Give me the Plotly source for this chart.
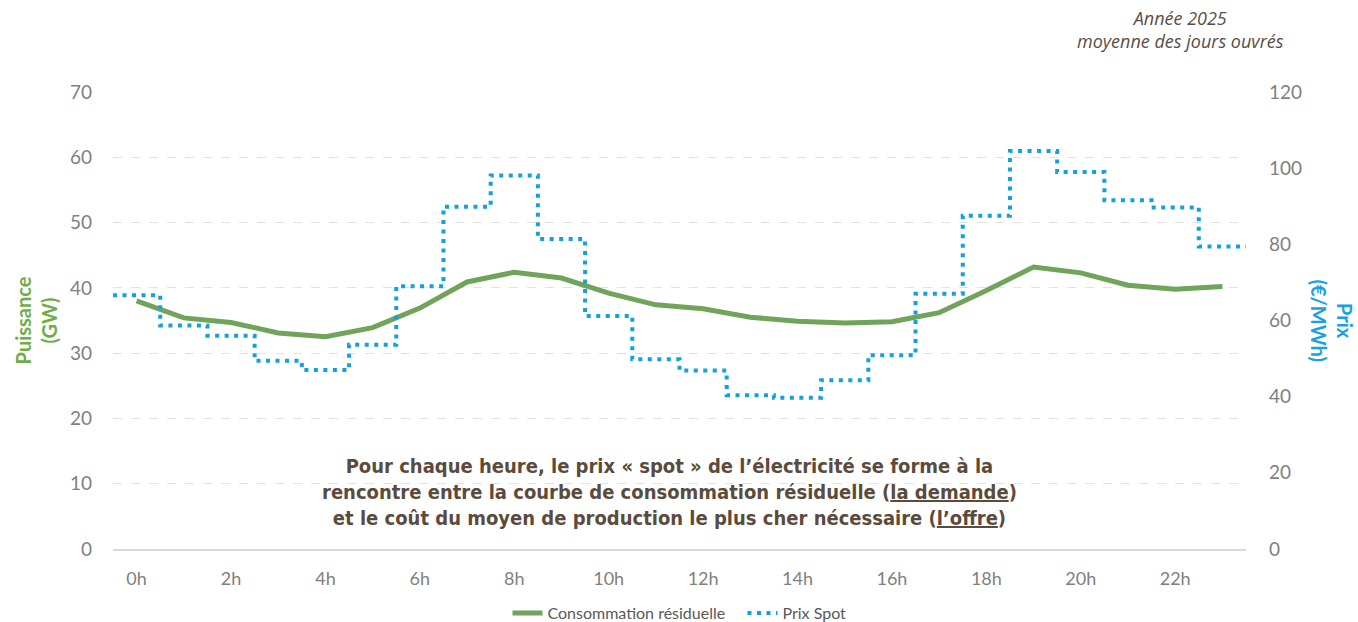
import plotly.graph_objects as go

hours = list(range(24))
tick_hours = list(range(0, 24, 2))
tick_labels = [f"{h}h" for h in tick_hours]

# Consommation résiduelle (GW)
conso = [38.0, 35.4, 34.7, 33.1, 32.5, 33.9, 36.9, 40.9, 42.4, 41.5,
         39.2, 37.4, 36.8, 35.5, 34.9, 34.6, 34.8, 36.2, 39.6, 43.2,
         42.3, 40.4, 39.8, 40.2]

# Prix spot (EUR/MWh)
prix = [66.6, 58.7, 56.0, 49.4, 47.0, 53.6, 69.0, 89.9, 98.1, 81.4,
        61.2, 49.8, 46.9, 40.4, 39.7, 44.3, 50.9, 67.0, 87.5, 104.5,
        99.0, 91.6, 89.7, 79.4]

left_ticks = list(range(0, 71, 10))
right_ticks = list(range(0, 121, 20))

GREEN = "#6FA45A"
BLUE = "#13A1DC"
GRAY = "#7F7F7F"
BROWN = "#5B4B3C"

# step edges: each hour covers [h-0.5, h+0.5]
step_x = [h - 0.5 for h in hours] + [hours[-1] + 0.5]
step_y = prix + [prix[-1]]

fig = go.Figure()
fig.add_trace(go.Scatter(
    x=step_x, y=step_y, yaxis="y2", mode="lines", line_shape="hv",
    name="Prix Spot", legendrank=2,
    line=dict(color=BLUE, width=4, dash="4px,5.5px"),
))
fig.add_trace(go.Scatter(
    x=hours, y=conso, mode="lines", name="Consommation résiduelle   ",
    legendrank=1, line=dict(color=GREEN, width=5),
))

fig.update_layout(
    width=1358, height=622,
    margin=dict(l=113, r=112, t=92, b=73, autoexpand=False),
    paper_bgcolor="white", plot_bgcolor="white",
    font=dict(family="Lato, Open Sans, sans-serif", color=GRAY),
    showlegend=True,
    legend=dict(orientation="h", x=0.5, xanchor="center",
                yref="container", y=0.0145, yanchor="middle",
                font=dict(size=16, color="#595959"),
                itemwidth=30, tracegroupgap=0),
    xaxis=dict(range=[-0.5, 23.5], tickvals=tick_hours, ticktext=tick_labels,
               showgrid=False, zeroline=False, showline=True, automargin=False,
               linecolor="#D9D9D9", linewidth=1.5, ticks="",
               tickfont=dict(size=18, color=GRAY), ticklabelstandoff=13),
    yaxis=dict(range=[0, 70], tickvals=left_ticks, showgrid=True,
               gridcolor="#E2E2E2", griddash="dash", gridwidth=1,
               zeroline=False, ticks="", automargin=False,
               tickfont=dict(size=19, color=GRAY), ticklabelstandoff=20),
    yaxis2=dict(range=[0, 120], tickvals=right_ticks, overlaying="y",
                side="right", showgrid=False, zeroline=False, ticks="",
                automargin=False,
                tickfont=dict(size=19, color=GRAY), ticklabelstandoff=22),
)

fig.add_annotation(
    xref="paper", yref="paper", x=-0.068, y=0.50, xanchor="center",
    yanchor="middle", textangle=-90, showarrow=False,
    text="<b>Puissance<br>(GW)</b>",
    font=dict(size=20, color="#70AD47", family="Lato, Open Sans, sans-serif"),
)
fig.add_annotation(
    xref="paper", yref="paper", x=1.076, y=0.50, xanchor="center",
    yanchor="middle", textangle=90, showarrow=False,
    text="<b>Prix<br>(€/MWh)</b>",
    font=dict(size=20, color="#1BA1E2", family="Lato, Open Sans, sans-serif"),
)
fig.add_annotation(
    xref="paper", yref="paper", x=0.942, y=1.136, xanchor="center",
    yanchor="middle", showarrow=False,
    text="<i>Année 2025<br>moyenne des jours ouvrés</i>",
    font=dict(size=18, color="#5A4E44", family="Open Sans, Lato, sans-serif"),
)
fig.add_annotation(
    xref="paper", yref="paper", x=0.4916, y=0.1247, xanchor="center",
    yanchor="middle", showarrow=False, align="center",
    text=("<b>Pour chaque heure, le prix « spot » de l’électricité se forme à la<br>"
          "rencontre entre la courbe de consommation résiduelle (<u>la demande</u>)<br>"
          "et le coût du moyen de production le plus cher nécessaire (<u>l’offre</u>)</b>"),
    font=dict(size=20, color=BROWN, family="DejaVu Sans Condensed, Roboto, sans-serif"),
)

fig.write_html("out.html", config={"displayModeBar": False},
               post_script="document.body.style.margin='0';")
